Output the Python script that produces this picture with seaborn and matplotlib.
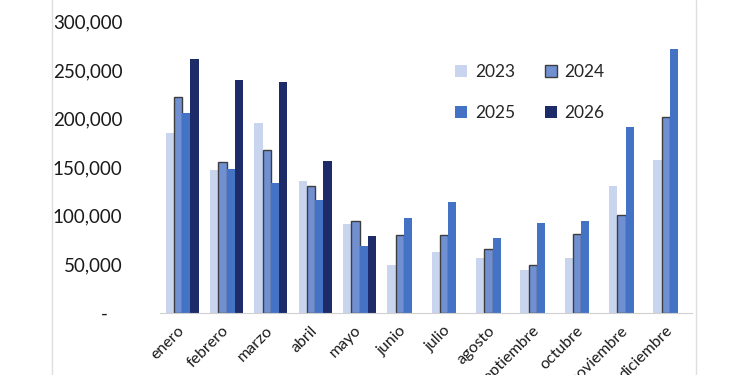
import numpy as np
import pandas as pd
import matplotlib
matplotlib.use("Agg")
import matplotlib.pyplot as plt
import seaborn as sns
from matplotlib.patches import Patch
from matplotlib.lines import Line2D

# ---- data ----
months = ["enero", "febrero", "marzo", "abril", "mayo", "junio", "julio",
          "agosto", "septiembre", "octubre", "noviembre", "diciembre"]
years = ["2023", "2024", "2025", "2026"]
v2023 = [185000, 147000, 196000, 136000, 92000, 49000, 62500, 57000, 44000, 57000, 131000, 158000]
v2024 = [222000, 155000, 168000, 131000, 95000, 80000, 80500, 65500, 49000, 81000, 100500, 202000]
v2025 = [205500, 148500, 134000, 116000, 68500, 98000, 114000, 77500, 92500, 95000, 191500, 272000]
v2026 = [261000, 240000, 238000, 156500, 79500, np.nan, np.nan, np.nan, np.nan, np.nan, np.nan, np.nan]
yticks = [0, 50000, 100000, 150000, 200000, 250000, 300000]

colors = ["#C9D5EE", "#7090D2", "#4472C4", "#1D2B68"]

df = pd.DataFrame({
    "mes": months * 4,
    "anio": sum([[y] * len(months) for y in years], []),
    "valor": v2023 + v2024 + v2025 + v2026,
})

sns.set_theme(style="white")
plt.rcParams["font.family"] = ["Lato", "DejaVu Sans"]

fig = plt.figure(figsize=(7.5, 3.75), dpi=100)
ax = fig.add_axes([160 / 750, 62 / 375, (692 - 160) / 750, (353.4 - 62) / 375])

sns.barplot(data=df, x="mes", y="valor", hue="anio", order=months,
            hue_order=years, palette=colors, width=0.74, gap=0,
            saturation=1, ax=ax, legend=False, errorbar=None, linewidth=0)

# outline on 2024 bars
for p in ax.containers[1]:
    p.set_edgecolor("#3d3d3d")
    p.set_linewidth(1.0)

ax.set_ylim(0, 300000)
ax.set_xlim(-0.5, len(months) - 0.5)
ax.set_yticks(yticks)
ax.set_yticklabels(["-   " if t == 0 else f"{t:,}" for t in yticks],
                   fontsize=13.5, color="#1a1a1a")
ax.tick_params(axis="y", length=0, pad=27)
ax.set_xlabel("")
ax.set_ylabel("")

# x axis
ax.set_xticks(range(len(months)))
ax.set_xticklabels(months, rotation=45, ha="right", va="center",
                   rotation_mode="anchor", fontsize=11.5, color="#1a1a1a")
ax.tick_params(axis="x", which="major", length=0, pad=11)
ax.set_xticks(np.arange(-0.5, len(months), 1.0), minor=True)
ax.tick_params(axis="x", which="minor", length=5, width=0.8, color="#d0d0d0",
               direction="out")

for s in ["left", "right", "top"]:
    ax.spines[s].set_visible(False)
ax.spines["bottom"].set_color("#d0d0d0")
ax.spines["bottom"].set_linewidth(0.8)
ax.grid(False)

# legend (row-wise order: 2023 2024 / 2025 2026)
handles = {}
for y, c in zip(years, colors):
    if y == "2024":
        handles[y] = Patch(facecolor=c, edgecolor="#3d3d3d", linewidth=1.0, label=y)
    else:
        handles[y] = Patch(facecolor=c, edgecolor="none", label=y)
order = [years[0], years[2], years[1], years[3]]
fig.legend(handles=[handles[y] for y in order], ncol=2, loc="upper left",
           bbox_to_anchor=(455 / 750, 1 - 64 / 375), bbox_transform=fig.transFigure,
           frameon=False, fontsize=12.5, handlelength=0.7, handleheight=0.7,
           handletextpad=0.45, columnspacing=1.7, labelspacing=1.45,
           borderpad=0, borderaxespad=0)

# chart frame lines
for xp in [52, 696]:
    fig.add_artist(Line2D([xp / 750, xp / 750], [0, 1], transform=fig.transFigure,
                          color="#dedede", linewidth=1.0))

fig.savefig("out.png", dpi=100)
